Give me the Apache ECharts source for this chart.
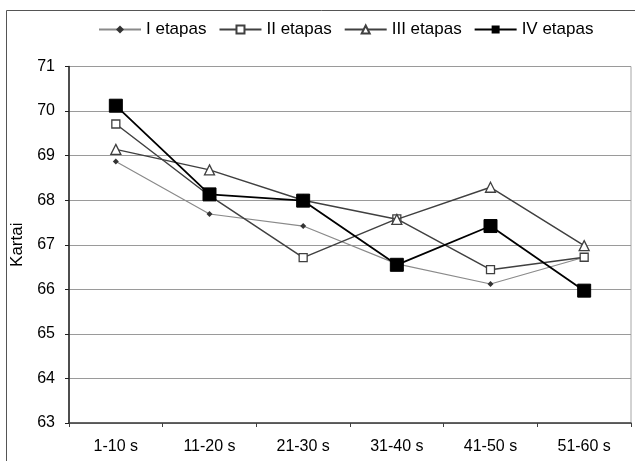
<!DOCTYPE html>
<html>
<head>
<meta charset="utf-8">
<script src="https://cdn.jsdelivr.net/npm/echarts@6/dist/echarts.min.js"></script>
<style>
html,body{margin:0;padding:0;background:#fff;}
#c{width:635px;height:461px;}
</style>
</head>
<body>
<div id="c"></div>
<script>
var categories = ['1-10 s', '11-20 s', '21-30 s', '31-40 s', '41-50 s', '51-60 s'];
var seriesNames = ['I etapas', 'II etapas', 'III etapas', 'IV etapas'];
var etapasI   = [68.87, 67.69, 67.42, 66.57, 66.12, 66.72];
var etapasII  = [69.71, 68.10, 66.71, 67.58, 66.44, 66.72];
var etapasIII = [69.14, 68.68, 68.00, 67.57, 68.29, 66.98];
var etapasIV  = [70.12, 68.13, 67.99, 66.55, 67.42, 65.97];
var yTicks = [63, 64, 65, 66, 67, 68, 69, 70, 71];
var yName = 'Kartai';

var font = 'Liberation Sans, Arial, sans-serif';
var chart = echarts.init(document.getElementById('c'), null, {renderer: 'canvas'});
chart.setOption({
  animation: false,
  backgroundColor: '#fff',
  graphic: [{
    type: 'rect',
    shape: {x: 6.5, y: 10.5, width: 700, height: 500},
    style: {fill: 'none', stroke: '#555', lineWidth: 1},
    silent: true,
    z: 0
  }],
  legend: {
    left: 93,
    top: 16,
    itemWidth: 42,
    itemHeight: 10,
    itemGap: 12,
    textStyle: {fontFamily: font, fontSize: 17, color: '#000'},
    data: seriesNames
  },
  grid: {
    left: 69, right: 4, top: 66.5, bottom: 38,
    show: true, borderColor: '#a6a6a6', borderWidth: 1
  },
  xAxis: {
    type: 'category',
    data: categories,
    boundaryGap: true,
    axisLine: {lineStyle: {color: '#404040', width: 1.5}},
    axisTick: {show: true, length: 4, lineStyle: {color: '#404040'}},
    axisLabel: {fontFamily: font, fontSize: 16, color: '#000', margin: 16},
    splitLine: {show: false}
  },
  yAxis: {
    type: 'value',
    min: yTicks[0], max: yTicks[yTicks.length - 1], interval: 1,
    name: yName,
    nameLocation: 'middle',
    nameGap: 42,
    nameTextStyle: {fontFamily: font, fontSize: 17, color: '#000'},
    axisLine: {show: true, lineStyle: {color: '#202020', width: 1.5}},
    axisTick: {show: true, length: 4, lineStyle: {color: '#202020'}},
    axisLabel: {fontFamily: font, fontSize: 16, color: '#000', margin: 14},
    splitLine: {show: true, lineStyle: {color: '#9a9a9a', width: 1}}
  },
  series: [
    {
      name: seriesNames[0], type: 'line', data: etapasI,
      symbol: 'diamond', symbolSize: 6,
      lineStyle: {color: '#8a8a8a', width: 1.2},
      itemStyle: {color: '#333', borderColor: '#333', borderWidth: 0},
      z: 2
    },
    {
      name: seriesNames[1], type: 'line', data: etapasII,
      symbol: 'rect', symbolSize: 8, showAllSymbol: true,
      lineStyle: {color: '#404040', width: 1.5},
      itemStyle: {color: '#fff', borderColor: '#404040', borderWidth: 1.3},
      z: 3
    },
    {
      name: seriesNames[2], type: 'line', data: etapasIII,
      symbol: 'triangle', symbolSize: 10,
      lineStyle: {color: '#404040', width: 1.5},
      itemStyle: {color: '#fff', borderColor: '#404040', borderWidth: 1.3},
      z: 4
    },
    {
      name: seriesNames[3], type: 'line', data: etapasIV,
      symbol: 'rect', symbolSize: 13,
      lineStyle: {color: '#000', width: 1.8},
      itemStyle: {color: '#000', borderColor: '#000'},
      z: 5
    }
  ]
});
</script>
</body>
</html>
